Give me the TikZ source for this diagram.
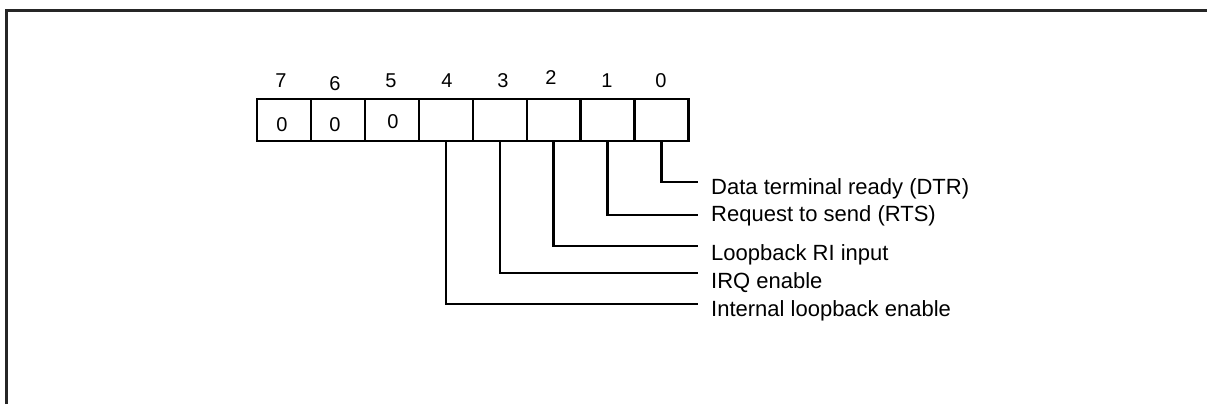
\documentclass[tikz,border=0pt]{standalone}
\usepackage{fontspec}
\setmainfont{Liberation Sans}
\begin{document}
\begin{tikzpicture}[x=1bp,y=-1bp,
  cell/.style={draw=black, line width=2.4bp, minimum width=53.9bp, minimum height=42bp, inner sep=0pt, anchor=north west},
  bitno/.style={font=\fontsize{20bp}{22bp}\selectfont, inner sep=0pt},
  cellval/.style={font=\fontsize{20bp}{22bp}\selectfont, inner sep=0pt},
  lead/.style={line width=2.4bp, line join=miter},
  lbl/.style={font=\fontsize{22bp}{26bp}\selectfont, anchor=base west, inner sep=0pt},
  frame/.style={draw=black!85, line width=2.4bp}]
\useasboundingbox (0,0) rectangle (1207,404);
% frame (open at right and bottom)
\coordinate (fbl) at (6.5,404);
\coordinate (ftl) at (6.5,10.5);
\coordinate (ftr) at (1207,10.5);
\draw[frame] (fbl) -- (ftl) -- (ftr);
% register cells
\foreach \b [count=\i from 0] in {7,6,5,4,3,2,1,0} {
  \node[cell] (c\b) at ({256+53.9*\i},98) {};
}
% bit numbers
\node[bitno] (n7) at (281,80.5) {7};
\node[bitno] (n6) at (335,84) {6};
\node[bitno] (n5) at (391,80.5) {5};
\node[bitno] (n4) at (447,80.5) {4};
\node[bitno] (n3) at (503,80.5) {3};
\node[bitno] (n2) at (551,77.5) {2};
\node[bitno] (n1) at (607,80.5) {1};
\node[bitno] (n0) at (661,80.5) {0};
% fixed values
\node[cellval] (v7) at (282,124.5) {0};
\node[cellval] (v6) at (335,124.5) {0};
\node[cellval] (v5) at (393,121.7) {0};
% leader ends
\coordinate (e0) at (698,182);
\coordinate (e1) at (698,215);
\coordinate (e2) at (698,246);
\coordinate (e3) at (698,273);
\coordinate (e4) at (698,304);
\draw[lead] (c0.south) |- (e0);
\draw[lead] (c1.south) |- (e1);
\draw[lead] (c2.south) |- (e2);
\draw[lead] (c3.south) |- (e3);
\draw[lead] (c4.south) |- (e4);
% labels
\node[lbl] (l0) at (711,194.3) {Data terminal ready (DTR)};
\node[lbl] (l1) at (711,221.7) {Request to send (RTS)};
\node[lbl] (l2) at (711,260.7) {Loopback RI input};
\node[lbl] (l3) at (711,288) {IRQ enable};
\node[lbl] (l4) at (711,316) {Internal loopback enable};
\end{tikzpicture}
\end{document}
